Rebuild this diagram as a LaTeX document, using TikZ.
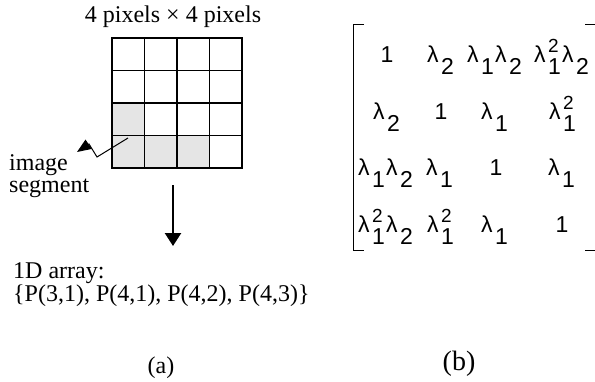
\documentclass[tikz,border=0pt]{standalone}
\usepackage{fontspec}
\setmainfont{Liberation Serif}
\newfontfamily\mtxfont{Liberation Sans}
\usetikzlibrary{arrows.meta, positioning}

\newcommand{\lsb}[1]{λ\kern2.5pt\raisebox{-12pt}{#1}\kern1pt}
\newcommand{\lsq}{λ\kern2.5pt\rlap{\raisebox{10pt}{\fontsize{19}{19}\selectfont 2}}\raisebox{-12pt}{1}\kern1pt}

\begin{document}
\begin{tikzpicture}[
    x=1pt, y=-1pt,
    txt/.style={inner sep=0pt, font=\fontsize{24}{22}\selectfont},
    entry/.style={inner sep=0pt, anchor=base, font=\mtxfont\fontsize{23}{23}\selectfont},
    cell/.style={draw=black, line width=1.4pt, line cap=rect},
    segcell/.style={fill=black!10},
    bigarrow/.style={-{Triangle[length=13pt, width=16pt]}, line width=2.5pt},
    zigarrow/.style={-{Triangle[length=14pt, width=11pt]}, line width=1pt},
    bracket/.style={line width=1pt},
]
\useasboundingbox (0,0) rectangle (595,381);

% (a) pixel grid
\fill[segcell] (112,103) rectangle (144.5,135.5);
\fill[segcell] (112,135.5) rectangle (209.5,168);
\foreach \k in {0,...,4} {
  \draw[cell] (112+32.5*\k,38) -- (112+32.5*\k,168);
  \draw[cell] (112,38+32.5*\k) -- (242,38+32.5*\k);
}

\node[txt, anchor=base] (title) at (173,22) {4 pixels × 4 pixels};
\node[txt, anchor=north west, align=left] (seglabel) at (9,154) {image\\segment};
\node[txt, anchor=north west, align=left, font=\fontsize{24}{23}\selectfont] (array) at (13,262) {1D array:\\\{P(3,1), P(4,1), P(4,2), P(4,3)\}};
\node[txt, anchor=base] (capa) at (161,373) {(a)};

\coordinate (segpt) at (128,138);
\coordinate (zig1) at (97,157);
\coordinate (zig2) at (89,144);
\coordinate (segtip) at (77,152);
\draw[zigarrow] (segpt) -- (zig1) -- (zig2) -- (segtip);

\coordinate (arrtop) at (173,185);
\coordinate (arrtip) at (173,246);
\draw[bigarrow] (arrtop) -- (arrtip);

% (b) matrix
\draw[bracket] (364,24) -- (353,24) -- (353,250) -- (364,250);
\draw[bracket] (585,24) -- (595,24);
\draw[bracket] (585,250) -- (595,250);

\node[entry] (e11) at (387,62) {1};
\node[entry] (e12) at (441,62) {\lsb{2}};
\node[entry] (e13) at (495,62) {\lsb{1}\lsb{2}};
\node[entry] (e14) at (562,62) {\lsq\lsb{2}};

\node[entry] (e21) at (387,119) {\lsb{2}};
\node[entry] (e22) at (441,119) {1};
\node[entry] (e23) at (495,119) {\lsb{1}};
\node[entry] (e24) at (563,119) {\lsq};

\node[entry] (e31) at (386,175) {\lsb{1}\lsb{2}};
\node[entry] (e32) at (440,175) {\lsb{1}};
\node[entry] (e33) at (496,175) {1};
\node[entry] (e34) at (562,175) {\lsb{1}};

\node[entry] (e41) at (386,232) {\lsq\lsb{2}};
\node[entry] (e42) at (441,232) {\lsq};
\node[entry] (e43) at (495,232) {\lsb{1}};
\node[entry] (e44) at (562,232) {1};

\node[txt, anchor=base, font=\fontsize{28}{28}\selectfont] (capb) at (459,370) {(b)};
\end{tikzpicture}
\end{document}
